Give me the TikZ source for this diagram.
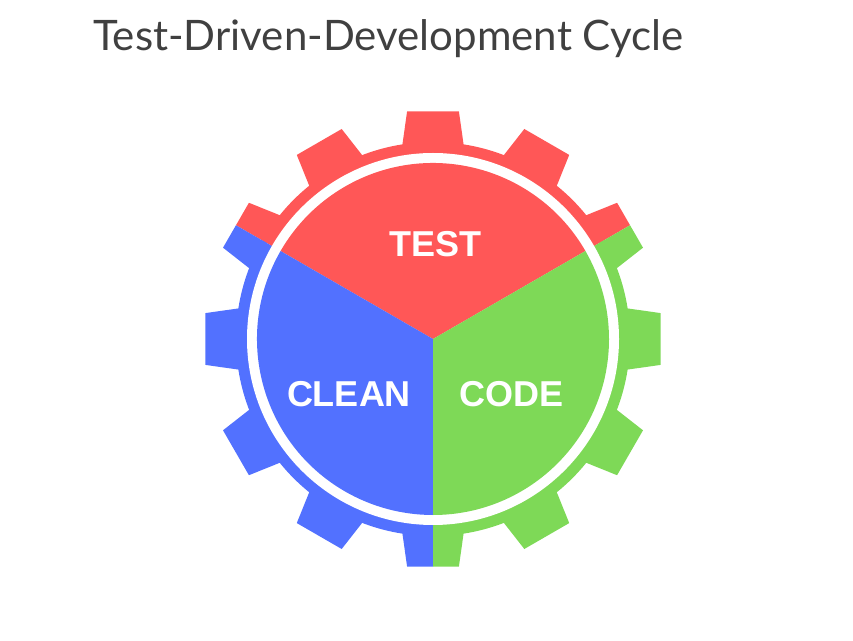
\documentclass[tikz,border=0pt]{standalone}
\usepackage{fontspec}
\setmainfont{Liberation Sans}
\newfontfamily\titlefont{Lato}

\definecolor{testred}{HTML}{FF5757}
\definecolor{cleanblue}{HTML}{5271FF}
\definecolor{codegreen}{HTML}{7ED957}
\definecolor{titlegray}{HTML}{404040}

\tikzset{
  slicetext/.style={text=white, font=\bfseries\fontsize{36}{36}\selectfont,
    inner sep=0pt, anchor=base},
}

\begin{document}
\begin{tikzpicture}[x=1pt,y=1pt]
  \useasboundingbox (0,0) rectangle (853,640);
  % Title
  \node[anchor=base west, inner sep=0pt, text=titlegray,
        font=\titlefont\fontsize{42}{42}\selectfont] (title) at (93,589.3)
        {Test-Driven-Development Cycle};
  \begin{scope}[shift={(433,301)}]
    % Gear body and teeth, one colour per third
    \foreach \col/\s in {testred/30, cleanblue/150, codegreen/270} {
      \begin{scope}
        \clip (0,0) -- (\s:260) arc[start angle=\s, delta angle=120, radius=260] -- cycle;
        \fill[\col] (0,0) circle (197);
        \foreach \a in {0,30,...,330}
          \fill[\col] (\a-9.2:194) -- (\a-6.5:229) -- (\a+6.5:229) -- (\a+9.2:194) -- cycle;
      \end{scope}
    }
    % White ring
    \fill[white] (0,0) circle (186);
    % Pie slices
    \foreach \col/\s in {testred/30, cleanblue/150, codegreen/270}
      \fill[\col] (0,0) -- (\s:176) arc[start angle=\s, delta angle=120, radius=176] -- cycle;
  \end{scope}
  % Slice labels
  \node[slicetext] (test) at (435,383.3) {TEST};
  \node[slicetext] (clean) at (349,233.3) {CLEAN};
  \node[slicetext] (code) at (511.3,233.3) {CODE};
\end{tikzpicture}
\end{document}
